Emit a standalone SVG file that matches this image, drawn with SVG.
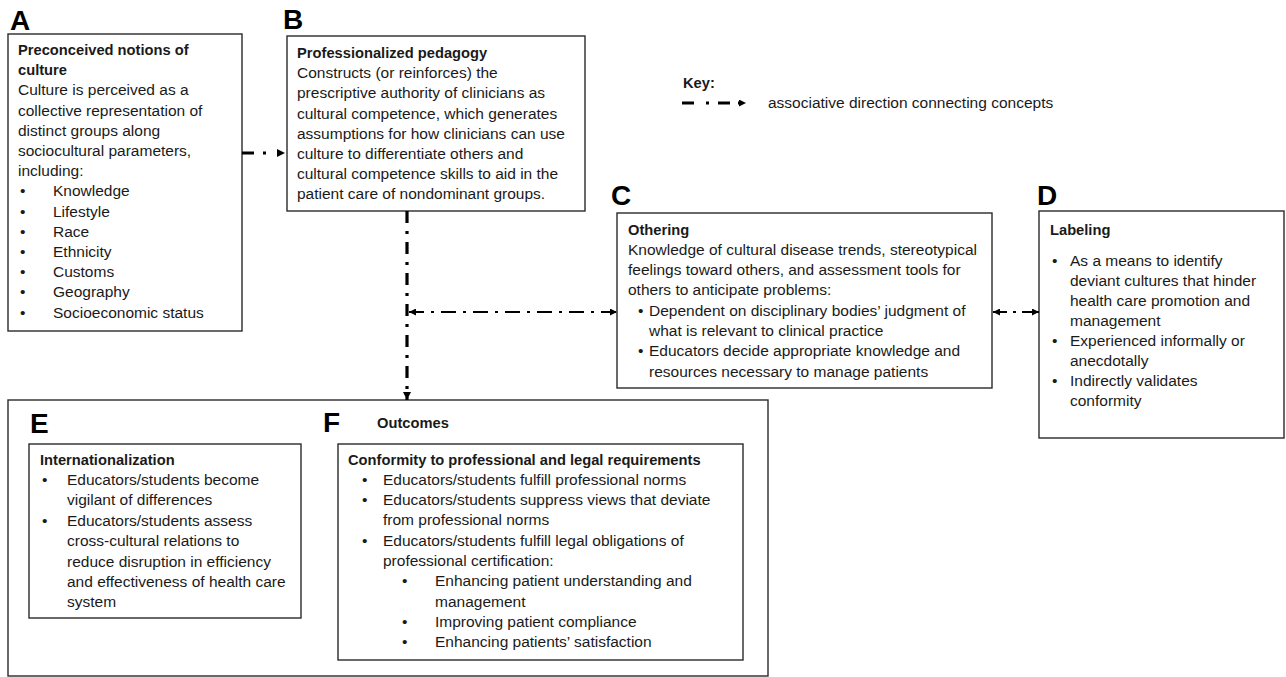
<svg xmlns="http://www.w3.org/2000/svg" width="1286" height="677" viewBox="0 0 1286 677">
<style>
text{font-family:"Liberation Sans",Arial,sans-serif;font-size:15.5px;fill:#1a1a1a}
.b{font-weight:bold;font-size:14.7px}
.big{font-weight:bold;font-size:28px;fill:#000}
.box{fill:#fff;stroke:#2a2a2a;stroke-width:1.4}
.c3{fill:none;stroke:#000;stroke-width:3.2}
.c2{fill:none;stroke:#000;stroke-width:2.2}
</style>
<defs>
<marker id="ah" viewBox="0 0 10 10" refX="10" refY="5" markerWidth="9" markerHeight="8" markerUnits="userSpaceOnUse" orient="auto-start-reverse"><path d="M0,0 L10,5 L0,10 z" fill="#000"/></marker>
<marker id="ahs" viewBox="0 0 10 10" refX="10" refY="5" markerWidth="9" markerHeight="7" markerUnits="userSpaceOnUse" orient="auto-start-reverse"><path d="M0,0 L10,5 L0,10 z" fill="#000"/></marker>
</defs>
<rect width="1286" height="677" fill="#fff"/>

<g id="key">
<text class="b" x="683" y="88">Key:</text>
<path class="c3" d="M682,103 L746,103" stroke-dasharray="12 12 3 9 12 8 3 40" marker-end="url(#ahs)"/>
<text x="768" y="108">associative direction connecting concepts</text>
</g>

<g id="nodeA">
<text class="big" x="10" y="30">A</text>
<rect class="box" x="8" y="34" width="234" height="297"/>
<text class="b" x="18" y="55">Preconceived notions of</text>
<text class="b" x="18" y="75.2">culture</text>
<text x="18" y="95.4">Culture is perceived as a</text>
<text x="18" y="115.6">collective representation of</text>
<text x="18" y="135.8">distinct groups along</text>
<text x="18" y="156">sociocultural parameters,</text>
<text x="18" y="176.2">including:</text>
<text x="20" y="196.4">•</text><text x="53" y="196.4">Knowledge</text>
<text x="20" y="216.6">•</text><text x="53" y="216.6">Lifestyle</text>
<text x="20" y="236.8">•</text><text x="53" y="236.8">Race</text>
<text x="20" y="257">•</text><text x="53" y="257">Ethnicity</text>
<text x="20" y="277.2">•</text><text x="53" y="277.2">Customs</text>
<text x="20" y="297.4">•</text><text x="53" y="297.4">Geography</text>
<text x="20" y="317.6">•</text><text x="53" y="317.6">Socioeconomic status</text>
</g>

<g id="nodeB">
<text class="big" x="283" y="29">B</text>
<rect class="box" x="287" y="36" width="298" height="175"/>
<text class="b" x="297" y="58">Professionalized pedagogy</text>
<text x="297" y="78.2">Constructs (or reinforces) the</text>
<text x="297" y="98.4">prescriptive authority of clinicians as</text>
<text x="297" y="118.6">cultural competence, which generates</text>
<text x="297" y="138.8">assumptions for how clinicians can use</text>
<text x="297" y="159">culture to differentiate others and</text>
<text x="297" y="179.2">cultural competence skills to aid in the</text>
<text x="297" y="199.4">patient care of nondominant groups.</text>
</g>

<g id="nodeC">
<text class="big" x="611" y="205">C</text>
<rect class="box" x="617" y="213" width="375" height="175"/>
<text class="b" x="628" y="234.5">Othering</text>
<text x="628" y="254.8">Knowledge of cultural disease trends, stereotypical</text>
<text x="628" y="275.1">feelings toward others, and assessment tools for</text>
<text x="628" y="295.4">others to anticipate problems:</text>
<text x="638" y="315.7">•</text><text x="649" y="315.7">Dependent on disciplinary bodies’ judgment of</text>
<text x="649" y="336">what is relevant to clinical practice</text>
<text x="638" y="356.3">•</text><text x="649" y="356.3">Educators decide appropriate knowledge and</text>
<text x="649" y="376.6">resources necessary to manage patients</text>
</g>

<g id="nodeD">
<text class="big" x="1037" y="205">D</text>
<rect class="box" x="1039" y="211" width="245" height="227"/>
<text class="b" x="1050" y="234.5">Labeling</text>
<text x="1052" y="265.5">•</text><text x="1070" y="265.5">As a means to identify</text>
<text x="1070" y="285.6">deviant cultures that hinder</text>
<text x="1070" y="305.7">health care promotion and</text>
<text x="1070" y="325.8">management</text>
<text x="1052" y="345.9">•</text><text x="1070" y="345.9">Experienced informally or</text>
<text x="1070" y="366">anecdotally</text>
<text x="1052" y="386.1">•</text><text x="1070" y="386.1">Indirectly validates</text>
<text x="1070" y="406.2">conformity</text>
</g>

<g id="outcomes">
<rect class="box" x="8" y="400" width="760" height="276"/>
<text class="big" x="323" y="432">F</text>
<text class="b" x="377" y="428">Outcomes</text>
</g>

<g id="nodeE">
<text class="big" x="30" y="433">E</text>
<rect class="box" x="29" y="444" width="272" height="174"/>
<text class="b" x="40" y="464.5">Internationalization</text>
<text x="42" y="484.9">•</text><text x="67" y="484.9">Educators/students become</text>
<text x="67" y="505.3">vigilant of differences</text>
<text x="42" y="525.7">•</text><text x="67" y="525.7">Educators/students assess</text>
<text x="67" y="546.1">cross-cultural relations to</text>
<text x="67" y="566.5">reduce disruption in efficiency</text>
<text x="67" y="586.9">and effectiveness of health care</text>
<text x="67" y="607.3">system</text>
</g>

<g id="nodeF">
<rect class="box" x="338" y="444" width="405" height="216"/>
<text class="b" x="348" y="464.5">Conformity to professional and legal requirements</text>
<text x="362" y="484.8">•</text><text x="383" y="484.8">Educators/students fulfill professional norms</text>
<text x="362" y="505.1">•</text><text x="383" y="505.1">Educators/students suppress views that deviate</text>
<text x="383" y="525.4">from professional norms</text>
<text x="362" y="545.7">•</text><text x="383" y="545.7">Educators/students fulfill legal obligations of</text>
<text x="383" y="566">professional certification:</text>
<text x="402" y="586.3">•</text><text x="435" y="586.3">Enhancing patient understanding and</text>
<text x="435" y="606.6">management</text>
<text x="402" y="626.9">•</text><text x="435" y="626.9">Improving patient compliance</text>
<text x="402" y="647.2">•</text><text x="435" y="647.2">Enhancing patients’ satisfaction</text>
</g>

<g id="connectors">
<path class="c3" d="M242,153 L285,153" stroke-dasharray="12 9 3 40" marker-end="url(#ah)"/>
<path class="c3" d="M407,211 L407,400" stroke-dasharray="12 8 3 8" marker-end="url(#ah)"/>
<path class="c2" d="M409,312 L617,312" stroke-dasharray="15 7 3 7" marker-start="url(#ahs)" marker-end="url(#ahs)"/>
<path class="c2" d="M993,312 L1039,312" stroke-dasharray="14 6 3 6 40" marker-start="url(#ahs)" marker-end="url(#ahs)"/>
</g>
</svg>
